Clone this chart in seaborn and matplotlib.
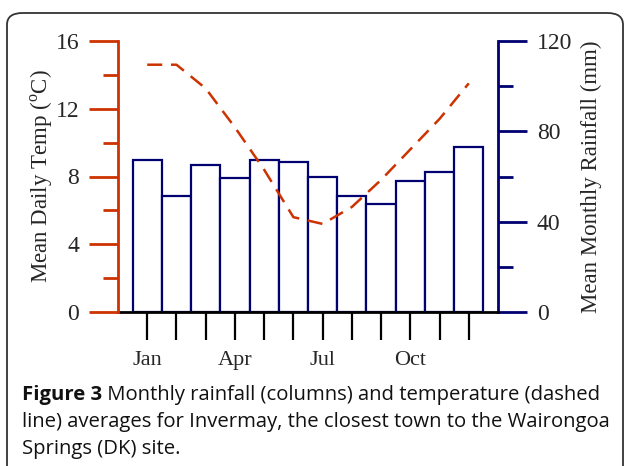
import numpy as np
import pandas as pd
import matplotlib
matplotlib.use('Agg')
import matplotlib.pyplot as plt
import seaborn as sns
from matplotlib.patches import FancyBboxPatch

months = ['Jan', 'Feb', 'Mar', 'Apr', 'May', 'Jun',
          'Jul', 'Aug', 'Sep', 'Oct', 'Nov', 'Dec']
rainfall_mm = [67.5, 51.2, 65.3, 59.3, 67.5, 66.4, 60.0, 51.3, 48.0, 58.0, 62.0, 73.0]
temp_c = [14.6, 14.6, 13.2, 10.9, 8.4, 5.6, 5.2, 6.2, 7.8, 9.6, 11.4, 13.5]
shown_months = ['Jan', '', '', 'Apr', '', '', 'Jul', '', '', 'Oct', '', '']

caption_bold = 'Figure 3'
caption_lines = [' Monthly rainfall (columns) and temperature (dashed',
                 'line) averages for Invermay, the closest town to the Wairongoa',
                 'Springs (DK) site.']

RED = '#cc3300'
NAVY = '#000070'

df = pd.DataFrame({'month': months, 'rain': rainfall_mm, 'temp': temp_c,
                   'pos': np.arange(len(months))})

sns.set_style('white')
plt.rcParams['font.family'] = ['Liberation Serif', 'DejaVu Serif']
plt.rcParams['mathtext.fontset'] = 'custom'
plt.rcParams['mathtext.rm'] = 'Liberation Serif'

fig = plt.figure(figsize=(6.24, 4.66), dpi=100)
ax = fig.add_axes([118 / 624, 154 / 466, 380 / 624, 271 / 466])
ax2 = ax.twinx()

# rainfall columns (right axis)
sns.barplot(data=df, x='pos', y='rain', ax=ax, width=1.0, color='white',
            edgecolor=NAVY, linewidth=1.6, native_scale=True, errorbar=None)
ax.set_xlim(-1, 12)
ax.set_ylim(0, 120)
ax.yaxis.tick_right()
ax.yaxis.set_label_position('right')
ax.set_yticks([0, 40, 80, 120])
ax.set_yticks([20, 60, 100], minor=True)
ax.set_ylabel('Mean Monthly Rainfall (mm)', fontsize=16.5, labelpad=6)
ax.set_xlabel('')
ax.set_xticks(df['pos'])
ax.set_xticklabels(shown_months, fontsize=16)
ax.tick_params(axis='x', direction='out', length=20, width=1.6, color='black',
               pad=8, bottom=True)
ax.tick_params(axis='y', which='major', direction='out', length=21, width=2,
               color=NAVY, labelsize=17, pad=7, right=True, left=False,
               labelright=True, labelleft=False)
ax.tick_params(axis='y', which='minor', direction='out', length=11, width=2,
               color=NAVY, right=True, left=False)
for s in ['top', 'left']:
    ax.spines[s].set_visible(False)
ax.spines['right'].set_color(NAVY)
ax.spines['right'].set_linewidth(2)
ax.spines['bottom'].set_color('black')
ax.spines['bottom'].set_linewidth(2)

# temperature dashed line (left axis)
sns.lineplot(data=df, x='pos', y='temp', ax=ax2, color=RED, linewidth=1.8,
             linestyle=(0, (6, 3.5)))
ax2.set_ylim(0, 16)
ax2.set_xlim(-1, 12)
ax2.yaxis.tick_left()
ax2.yaxis.set_label_position('left')
ax2.set_yticks([0, 4, 8, 12, 16])
ax2.set_yticks([2, 6, 10, 14], minor=True)
ax2.set_ylabel('Mean Daily Temp ($^{\\rm o}$C)', fontsize=16.5, labelpad=0)
ax2.set_xlabel('')
ax2.tick_params(axis='y', which='major', direction='out', length=21, width=2,
                color=RED, labelsize=17, pad=7, left=True, right=False,
                labelleft=True, labelright=False)
ax2.tick_params(axis='y', which='minor', direction='out', length=11, width=2,
                color=RED, left=True, right=False)
for s in ['top', 'right', 'bottom']:
    ax2.spines[s].set_visible(False)
ax2.spines['left'].set_color(RED)
ax2.spines['left'].set_linewidth(2)

# frame around figure
frame = FancyBboxPatch((7 / 624, -0.1), 616 / 624, (453 / 466) + 0.1,
                       boxstyle='round,pad=0,rounding_size=0.025',
                       transform=fig.transFigure, fill=False,
                       edgecolor='#333333', linewidth=1.3, clip_on=False)
fig.patches.append(frame)

# caption
cap_font = ['Open Sans', 'DejaVu Sans']
cap_size = 14.6
t = fig.text(22 / 624, 1 - 395 / 466, caption_bold, fontsize=cap_size, fontweight='bold',
             family=cap_font, va='center', ha='left', color='#111111')
fig.canvas.draw()
bb = t.get_window_extent()
fig.text(bb.x1 / 624, 1 - 395 / 466, caption_lines[0], fontsize=cap_size,
         family=cap_font, va='center', ha='left', color='#111111')
fig.text(22 / 624, 1 - 422 / 466, caption_lines[1], fontsize=cap_size,
         family=cap_font, va='center', ha='left', color='#111111')
fig.text(22 / 624, 1 - 449 / 466, caption_lines[2], fontsize=cap_size,
         family=cap_font, va='center', ha='left', color='#111111')

fig.savefig('out.png', dpi=100)
